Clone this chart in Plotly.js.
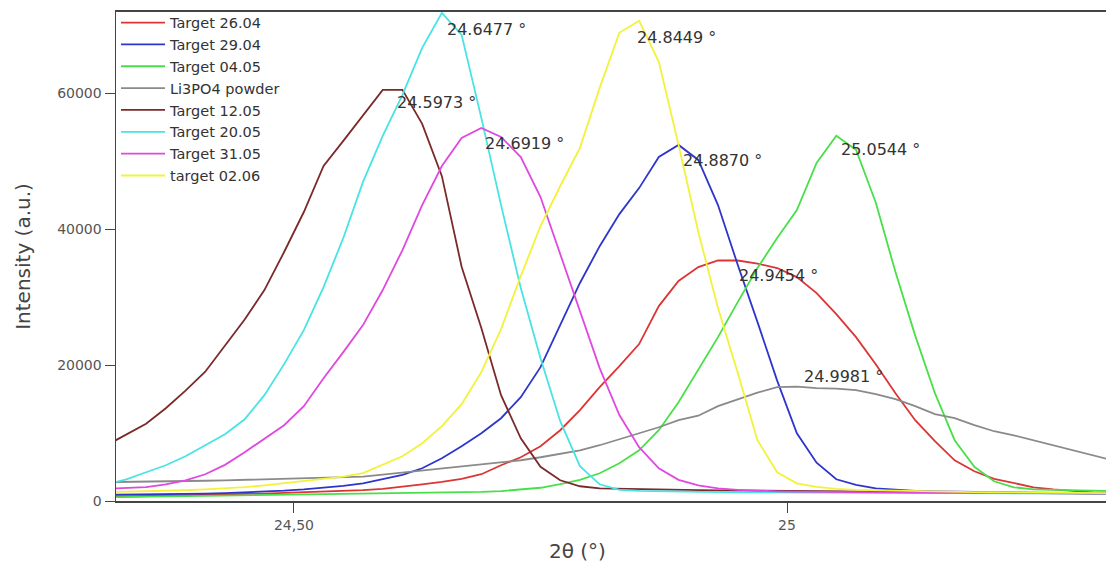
<!DOCTYPE html>
<html>
<head>
<meta charset="utf-8">
<script src="https://cdn.plot.ly/plotly-3.0.1.min.js"></script>
<style>
html,body{margin:0;padding:0;background:#fff;}
#chart{width:1106px;height:565px;}
</style>
</head>
<body>
<div id="chart"></div>
<script>
// 2θ positions (degrees)
const twoTheta = [24.31,24.33,24.35,24.37,24.39,24.41,24.43,24.45,24.47,24.49,
  24.51,24.53,24.55,24.57,24.59,24.61,24.63,24.65,24.67,24.69,
  24.71,24.73,24.75,24.77,24.79,24.81,24.83,24.85,24.87,24.89,
  24.91,24.93,24.95,24.97,24.99,25.01,25.03,25.05,25.07,25.09,
  25.11,25.13,25.15,25.17,25.19,25.21,25.23,25.25,25.27,25.29,
  25.31,25.33];

const seriesNames = ['Target 26.04','Target 29.04','Target 04.05','Li3PO4 powder',
  'Target 12.05','Target 20.05','Target 31.05','target 02.06'];

const target2604 = [600,650,700,760,820,880,950,1020,1100,1190,
  1280,1380,1480,1600,1800,2090,2460,2830,3270,3940,
  5260,6440,8060,10420,13370,16760,19850,23100,28700,32390,
  34450,35410,35410,34960,34300,32970,30610,27520,24130,20150,
  15870,11900,8800,5990,4380,3270,2610,2020,1720,1500,
  1280,1210];

const target2904 = [900,920,950,990,1040,1100,1170,1260,1380,1520,
  1700,1920,2230,2610,3200,3860,4820,6290,8060,9980,
  12190,15290,19710,25900,32100,37520,42240,46070,50650,52430,
  50220,43580,34790,26380,17720,9980,5630,3200,2390,1870,
  1650,1500,1430,1380,1330,1290,1250,1220,1190,1160,
  1130,1110];

const target0405 = [560,600,650,690,740,780,830,870,920,960,
  1000,1030,1060,1090,1120,1150,1190,1230,1290,1350,
  1460,1650,1950,2500,3120,4080,5560,7470,10420,14550,
  19260,24130,29290,34300,38720,42850,49780,53770,51710,43950,
  33710,24350,15870,8950,5040,2900,2020,1720,1650,1580,
  1500,1470];

const li3po4Powder = [2780,2800,2830,2870,2920,2980,3050,3130,3200,3280,
  3360,3420,3490,3580,3870,4160,4450,4740,5030,5340,
  5700,6000,6440,6990,7470,8210,9090,9900,10860,11900,
  12560,13960,14990,15950,16760,16830,16610,16540,16320,15730,
  14990,13960,12780,12190,11160,10270,9680,8950,8210,7400,
  6660,6000];

const target1205 = [8210,9760,11380,13660,16240,19040,22950,26710,31060,36660,
  42550,49330,53020,56850,60540,60540,55530,47830,34500,25460,
  15580,9240,5040,3050,2170,1870,1800,1750,1700,1650,
  1600,1570,1540,1500,1470,1440,1410,1380,1350,1320,
  1300,1280,1260,1240,1220,1200,1180,1160,1140,1120,
  1100,1090];

const target2005 = [2460,3200,4230,5260,6590,8210,9830,12040,15590,20150,
  25160,31500,38720,46980,53760,59800,66730,71870,68640,56410,
  43560,31350,21030,11750,5120,2460,1650,1500,1430,1360,
  1330,1310,1290,1270,1250,1240,1230,1220,1210,1200,
  1190,1180,1170,1160,1150,1140,1130,1120,1110,1100,
  1090,1080];

const target3105 = [1800,1920,2050,2460,3050,3940,5320,7190,9120,11160,
  13960,18080,21920,25900,31060,36950,43580,49330,53450,54930,
  53600,50650,44760,36360,28180,19560,12660,7920,4820,3120,
  2310,1870,1650,1500,1430,1380,1340,1300,1280,1260,
  1240,1220,1200,1190,1180,1170,1160,1150,1140,1130,
  1120,1110];

const target0206 = [1300,1350,1400,1480,1580,1700,1850,2050,2300,2600,
  2950,3250,3600,4100,5370,6590,8500,11010,14250,18970,
  25310,33120,40490,46380,51990,60830,68940,70710,64670,52430,
  39640,28400,18870,8950,4230,2610,2090,1800,1650,1580,
  1500,1450,1400,1360,1320,1290,1260,1230,1200,1180,
  1160,1140];

const seriesValues = [target2604,target2904,target0405,li3po4Powder,
  target1205,target2005,target3105,target0206];

// peak position labels (degrees)
const peakLabels = ['24.6477','24.8449','24.5973','24.6919','24.8870','25.0544','24.9454','24.9981'];
// where each label text sits (data coordinates of its left-middle point)
const labelAnchorX = [24.6531,24.8458,24.6024,24.6917,24.8922,25.0527,24.9490,25.0149];
const labelAnchorY = [69380,68200,58620,52580,50120,51690,33270,18380];

const xTickVals = [24.5, 25];
const xTickText = ['24,50', '25'];
const yTickVals = [0, 20000, 40000, 60000];

const colors = ['#dd3434','#2e35cc','#48e048','#8a8a8a','#7a2a2a','#48e4e4','#e048e0','#f2f23a'];
const FONT = 'DejaVu Sans, sans-serif';

const traces = seriesNames.map((name, i) => ({
  type: 'scatter',
  mode: 'lines',
  name: name,
  x: twoTheta,
  y: seriesValues[i],
  line: {color: colors[i], width: 1.8},
  legendgroup: 'g' + i
}));

const annotations = peakLabels.map((t, i) => ({
  x: labelAnchorX[i], y: labelAnchorY[i], xref: 'x', yref: 'y',
  text: t + ' °', showarrow: false, xanchor: 'left', yanchor: 'middle',
  font: {family: FONT, size: 16, color: '#333'}
}));

annotations.push({
  x: 0.4657, y: 0, xref: 'paper', yref: 'paper', yshift: -50,
  text: '2θ (°)', showarrow: false, xanchor: 'center', yanchor: 'middle',
  font: {family: FONT, size: 20, color: '#444'}
});

const layout = {
  width: 1106, height: 565,
  margin: {l: 116, r: 0, t: 12, b: 64},
  paper_bgcolor: '#fff', plot_bgcolor: '#fff',
  font: {family: FONT, color: '#444'},
  showlegend: true,
  legend: {
    x: 0, y: 1.011, xanchor: 'left', yanchor: 'top',
    bgcolor: 'rgba(0,0,0,0)', borderwidth: 0,
    font: {family: FONT, size: 14.5, color: '#333'},
    itemwidth: 44, tracegroupgap: 0
  },
  xaxis: {
    range: [24.3195, 25.3235],
    tickvals: xTickVals, ticktext: xTickText,
    ticks: 'outside', ticklen: 10, tickwidth: 1, tickcolor: '#444',
    showline: true, linecolor: '#444', linewidth: 2, mirror: true,
    showgrid: false, zeroline: false,
    tickfont: {family: FONT, size: 14, color: '#555'}
  },
  yaxis: {
    range: [0, 72000],
    tickvals: yTickVals, tickformat: 'd',
    ticks: 'outside', ticklen: 10, tickwidth: 1, tickcolor: '#444',
    showline: true, linecolor: '#444', linewidth: 1.5, mirror: true,
    showgrid: false, zeroline: false,
    tickfont: {family: FONT, size: 14, color: '#555'},
    title: {text: 'Intensity (a.u.)', font: {family: FONT, size: 20, color: '#444'}, standoff: 21}
  },
  annotations: annotations
};

Plotly.newPlot('chart', traces, layout, {staticPlot: true, displayModeBar: false});
</script>
</body>
</html>
